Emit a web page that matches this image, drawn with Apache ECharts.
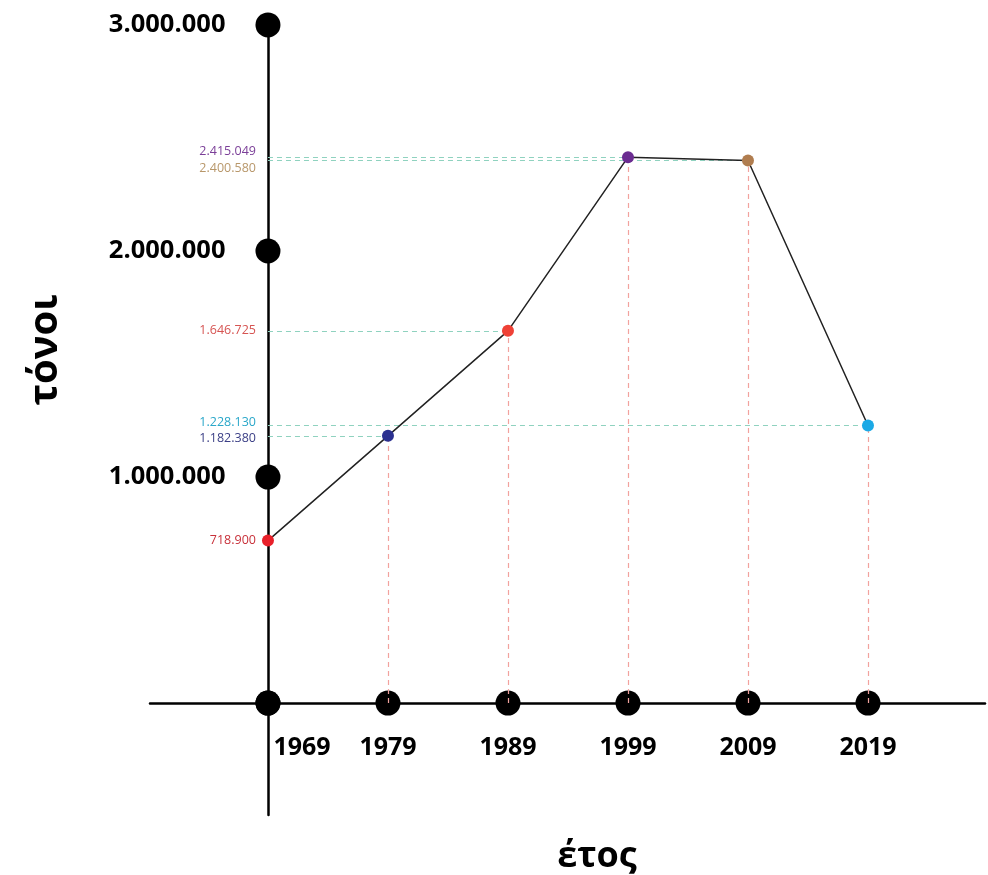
<!DOCTYPE html>
<html>
<head>
<meta charset="utf-8">
<script src="https://cdn.jsdelivr.net/npm/echarts@6/dist/echarts.min.js"></script>
<style>
  html, body { margin: 0; padding: 0; background: #ffffff; }
  #chart { width: 988px; height: 875px; }
</style>
</head>
<body>
<div id="chart"></div>
<script>
// Annual tonnage by survey year
const years = [1969, 1979, 1989, 1999, 2009, 2019];
const tonnes = [718900, 1182380, 1646725, 2415049, 2400580, 1228130];
const pointColors = ['#e8202a', '#2b3190', '#ef4136', '#6b2c91', '#b07d4f', '#1ba9e6'];
const labelColors = ['#c8313a', '#3b3f86', '#d65452', '#7b3f98', '#b8976a', '#2aa7c9'];
const yTicks = [0, 1000000, 2000000, 3000000];
const xTicks = years;
const originYear = 1969;

// Value labels next to the vertical axis are nudged apart where they crowd
const labelNudge = [0, 3, 0, -6, 8, -3];

function dotted(n) {
  return String(n).replace(/\B(?=(\d{3})+(?!\d))/g, '.');
}

const font = '"Open Sans", "DejaVu Sans", sans-serif';
const chart = echarts.init(document.getElementById('chart'));

const points = years.map((y, i) => [y - originYear, tonnes[i]]);

const guideLines = [];
points.forEach((p, i) => {
  if (i === 0) return;
  guideLines.push([
    { coord: [0, p[1]], lineStyle: { color: '#8fd2bf' } },
    { coord: [p[0], p[1]] }
  ]);
  guideLines.push([
    { coord: [p[0], 0], lineStyle: { color: '#f2a29e' } },
    { coord: [p[0], p[1]] }
  ]);
});

chart.setOption({
  animation: false,
  backgroundColor: '#ffffff',
  grid: { left: 150, right: 3, top: 15, bottom: 60 },
  xAxis: {
    type: 'value',
    min: -9.83,
    max: 59.75,
    axisLine: { onZero: true, lineStyle: { color: '#000', width: 2.5 } },
    axisTick: { show: false },
    axisLabel: { show: false },
    splitLine: { show: false }
  },
  yAxis: {
    type: 'value',
    min: -495000,
    max: 3044000,
    axisLine: { onZero: true, lineStyle: { color: '#000', width: 2.5 } },
    axisTick: { show: false },
    axisLabel: { show: false },
    splitLine: { show: false }
  },
  graphic: [
    {
      type: 'text',
      x: 46, y: 350,
      rotation: Math.PI / 2,
      style: {
        text: 'τόνοι',
        font: 'bold 40px ' + font,
        fill: '#000',
        align: 'center',
        verticalAlign: 'middle'
      }
    },
    {
      type: 'text',
      x: 597, y: 857,
      style: {
        text: 'έτος',
        font: 'bold 36px ' + font,
        fill: '#000',
        align: 'center',
        verticalAlign: 'middle'
      }
    }
  ],
  series: [
    {
      name: 'guides',
      type: 'line',
      data: [],
      silent: true,
      z: 2,
      markLine: {
        silent: true,
        symbol: 'none',
        label: { show: false },
        lineStyle: { type: [5, 4], width: 1.2 },
        data: guideLines
      }
    },
    {
      name: 'tonnes',
      type: 'line',
      data: points,
      z: 5,
      symbol: 'circle',
      symbolSize: 12,
      lineStyle: { color: '#222', width: 1.5 },
      itemStyle: { color: (p) => pointColors[p.dataIndex], opacity: 1 }
    },
    {
      name: 'value labels',
      type: 'scatter',
      symbolSize: 0,
      z: 6,
      itemStyle: { opacity: 1 },
      data: tonnes.map((v, i) => ({
        value: [0, v],
        label: {
          color: labelColors[i],
          offset: [0, labelNudge[i]]
        }
      })),
      label: {
        show: true,
        position: 'left',
        distance: 12,
        fontFamily: font,
        fontSize: 12.5,
        formatter: (p) => dotted(p.value[1])
      }
    },
    {
      name: 'y ticks',
      type: 'scatter',
      symbolSize: 25,
      z: 4,
      itemStyle: { color: '#000', opacity: 1 },
      data: yTicks.map((v) => ({
        value: [0, v],
        label: { show: v !== 0 }
      })),
      label: {
        position: 'left',
        distance: 30,
        fontFamily: font,
        fontWeight: 'bold',
        fontSize: 25.5,
        color: '#000',
        formatter: (p) => dotted(p.value[1])
      }
    },
    {
      name: 'x ticks',
      type: 'scatter',
      symbolSize: 25,
      z: 4,
      itemStyle: { color: '#000', opacity: 1 },
      data: xTicks.map((y, i) => ({
        value: [y - originYear, 0],
        label: { offset: i === 0 ? [34, 0] : [0, 0] }
      })),
      label: {
        show: true,
        position: 'bottom',
        distance: 20,
        fontFamily: font,
        fontWeight: 'bold',
        fontSize: 25,
        color: '#000',
        formatter: (p) => String(p.value[0] + originYear)
      }
    }
  ]
});
</script>
</body>
</html>
